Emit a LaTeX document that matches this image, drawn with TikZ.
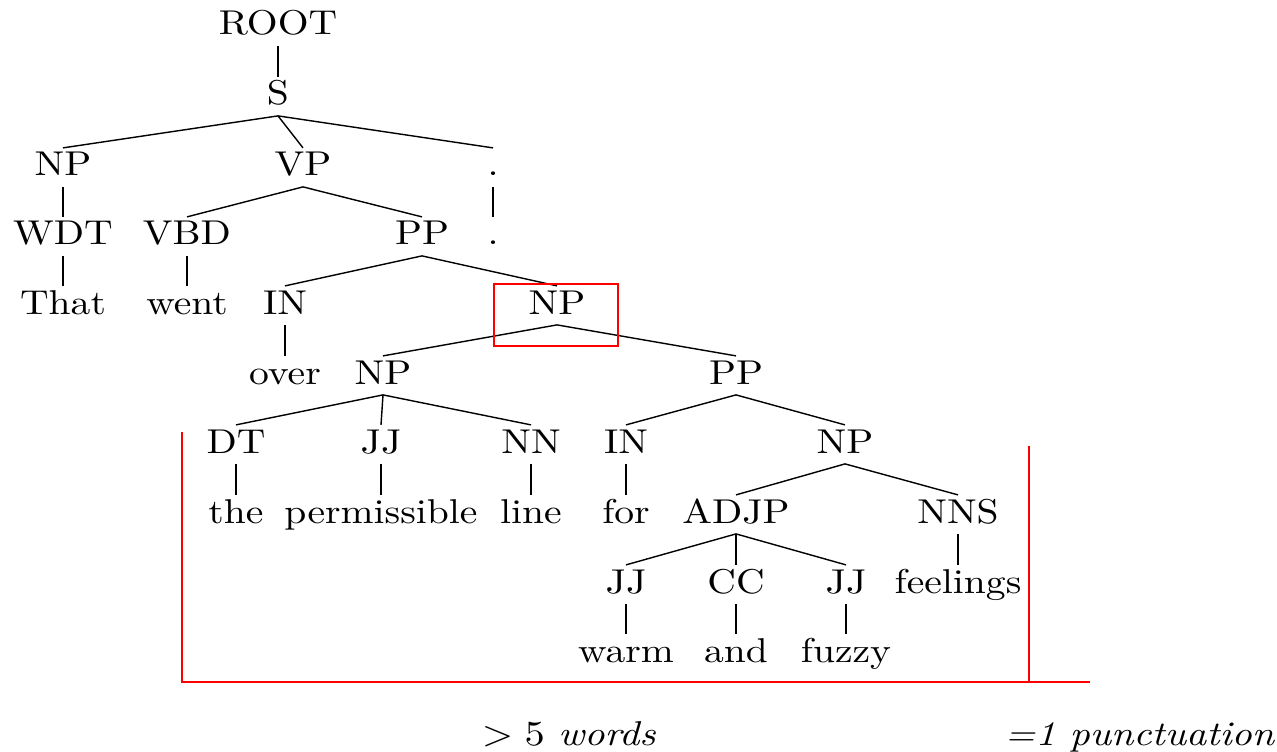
\documentclass[tikz,border=0pt]{standalone}
\usepackage{tikz}

\tikzset{
  tag/.style={anchor=base, inner sep=1pt, text height=6.8pt, text depth=1.9pt,
              xscale=1.15, font=\fontsize{9.8}{11}\selectfont},
  span/.style={red, thin},
}

\begin{document}
\begin{tikzpicture}
  \useasboundingbox (0,0) rectangle (12.77,-7.51);

  % parse tree, one row per level
  \node[tag] (root) at (2.78,-0.35) {ROOT};
  \node[tag] (s)    at (2.78,-1.05) {S};

  \node[tag] (np)   at (0.63,-1.76) {NP};
  \node[tag] (vp)   at (3.03,-1.76) {VP};
  \node[tag] (pu)   at (4.93,-1.76) {.};

  \node[tag] (wdt)  at (0.63,-2.45) {WDT};
  \node[tag] (vbd)  at (1.87,-2.45) {VBD};
  \node[tag] (pp)   at (4.22,-2.45) {PP};
  \node[tag] (puw)  at (4.93,-2.45) {.};

  \node[tag] (that) at (0.63,-3.14) {That};
  \node[tag] (went) at (1.87,-3.14) {went};
  \node[tag] (in)   at (2.85,-3.14) {IN};
  \node[tag] (npo)  at (5.57,-3.14) {NP};

  \node[tag] (over) at (2.85,-3.84) {over};
  \node[tag] (npa)  at (3.83,-3.84) {NP};
  \node[tag] (ppa)  at (7.36,-3.84) {PP};

  \node[tag] (dt)   at (2.36,-4.53) {DT};
  \node[tag] (jj)   at (3.81,-4.53) {JJ};
  \node[tag] (nn)   at (5.31,-4.53) {NN};
  \node[tag] (inb)  at (6.26,-4.53) {IN};
  \node[tag] (npb)  at (8.45,-4.53) {NP};

  \node[tag] (the)  at (2.36,-5.23) {the};
  \node[tag] (perm) at (3.81,-5.23) {permissible};
  \node[tag] (line) at (5.31,-5.23) {line};
  \node[tag] (for)  at (6.26,-5.23) {for};
  \node[tag] (adjp) at (7.36,-5.23) {ADJP};
  \node[tag] (nns)  at (9.58,-5.23) {NNS};

  \node[tag] (jja)  at (6.26,-5.93) {JJ};
  \node[tag] (cc)   at (7.36,-5.93) {CC};
  \node[tag] (jjb)  at (8.46,-5.93) {JJ};
  \node[tag] (feel) at (9.58,-5.93) {feelings};

  \node[tag] (warm) at (6.26,-6.62) {warm};
  \node[tag] (and)  at (7.36,-6.62) {and};
  \node[tag] (fuzz) at (8.46,-6.62) {fuzzy};

  % branches
  \foreach \p/\c in {root/s, s/np, s/vp, s/pu, np/wdt, vp/vbd, vp/pp, pu/puw,
                     wdt/that, vbd/went, pp/in, pp/npo, in/over, npo/npa, npo/ppa,
                     npa/dt, npa/jj, npa/nn, ppa/inb, ppa/npb,
                     dt/the, jj/perm, nn/line, inb/for, npb/adjp, npb/nns,
                     adjp/jja, adjp/cc, adjp/jjb, nns/feel,
                     jja/warm, cc/and, jjb/fuzz}
    \draw (\p.south) -- (\c.north);

  % marked constituent and its span
  \draw[span] (4.94,-2.84) rectangle (6.18,-3.46);
  \draw[span] (1.82,-4.32) |- (10.90,-6.82);
  \draw[span] (10.29,-4.46) -- (10.29,-6.82);

  \node[tag] (words) at (5.69,-7.45) {$>5$ \textit{words}};
  \node[tag] (punct) at (11.40,-7.45) {\textit{=1 punctuation}};
\end{tikzpicture}
\end{document}
